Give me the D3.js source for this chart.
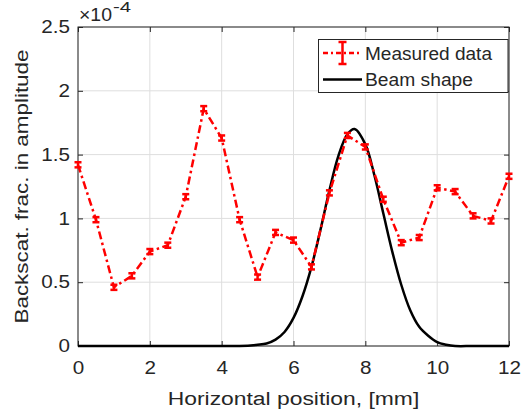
<!DOCTYPE html>
<html>
<head>
<meta charset="utf-8">
<script src="https://cdn.jsdelivr.net/npm/d3@7"></script>
<style>
  body { margin: 0; background: #fff; }
  svg text { font-family: "Liberation Sans", Arial, sans-serif; fill: #262626; }
</style>
</head>
<body>
<div id="chart"></div>
<script>
// measured data (x in mm, value in 1e-4)
const posX = [0, 0.5, 1, 1.5, 2, 2.5, 3, 3.5, 4, 4.5, 5, 5.5, 6, 6.5, 7, 7.5, 8, 8.5, 9, 9.5, 10, 10.5, 11, 11.5, 12]
const measured = [1.42, 0.99, 0.46, 0.55, 0.74, 0.79, 1.17, 1.86, 1.63, 0.99, 0.54, 0.89, 0.83, 0.62, 1.20, 1.65, 1.56, 1.15, 0.81, 0.85, 1.24, 1.21, 1.02, 0.98, 1.33]
const errs = [0.02, 0.02, 0.02, 0.02, 0.02, 0.02, 0.02, 0.02, 0.02, 0.02, 0.02, 0.02, 0.02, 0.02, 0.02, 0.02, 0.02, 0.02, 0.02, 0.02, 0.02, 0.02, 0.02, 0.02, 0.02]
// beam shape
const beamX = [0, 4, 4.5, 5, 5.25, 5.5, 5.75, 6, 6.25, 6.5, 6.75, 7, 7.25, 7.5, 7.7, 8, 8.25, 8.5, 8.75, 9, 9.25, 9.5, 9.75, 10, 10.25, 10.5, 11, 12]
const beam = [0, 0, 0, 0.01, 0.02, 0.05, 0.11, 0.22, 0.39, 0.62, 0.91, 1.22, 1.49, 1.66, 1.70, 1.58, 1.34, 1.04, 0.74, 0.48, 0.28, 0.15, 0.08, 0.03, 0.01, 0, 0, 0]
const xTicks = [0, 2, 4, 6, 8, 10, 12]
const yTicks = [0, 0.5, 1, 1.5, 2, 2.5]

const width = 522, height = 416
const mLeft = 78, mRight = 509, mTop = 27, mBottom = 346
const axisColor = '#262626'

const svg = d3.select('#chart').append('svg').attr('width', width).attr('height', height)

const x = d3.scaleLinear().domain([0, 12]).range([mLeft, mRight])
const y = d3.scaleLinear().domain([0, 2.5]).range([mBottom, mTop])

// 文字横向拉宽 (原图字体更宽)
const stretch = (sel, k) => {
  sel.each(function () {
    const len = this.getComputedTextLength()
    d3.select(this).attr('textLength', len * k).attr('lengthAdjust', 'spacingAndGlyphs')
  })
}

// 网格
const grid = svg.append('g').attr('class', 'grid')
grid.selectAll('.gx').data(xTicks).enter().append('line')
  .attr('x1', d => x(d)).attr('x2', d => x(d))
  .attr('y1', mTop).attr('y2', mBottom)
  .attr('stroke', '#dedede').attr('stroke-width', 1)
grid.selectAll('.gy').data(yTicks).enter().append('line')
  .attr('x1', mLeft).attr('x2', mRight)
  .attr('y1', d => y(d)).attr('y2', d => y(d))
  .attr('stroke', '#dedede').attr('stroke-width', 1)

// 坐标轴
const styleAxis = (g) => {
  g.select('.domain').remove()
  g.selectAll('line').attr('stroke', axisColor)
  g.selectAll('text').style('font-size', '17.5px').attr('fill', axisColor).call(stretch, 1.18)
}
svg.append('g').attr('transform', `translate(0,${mBottom})`)
  .call(d3.axisBottom(x).tickValues(xTicks).tickSize(-5).tickPadding(16).tickFormat(d3.format('d')))
  .call(styleAxis)
svg.append('g').attr('transform', `translate(0,${mTop})`)
  .call(d3.axisTop(x).tickValues(xTicks).tickSize(-5).tickFormat(''))
  .call(styleAxis)
svg.append('g').attr('transform', `translate(${mLeft},0)`)
  .call(d3.axisLeft(y).tickValues(yTicks).tickSize(-5).tickPadding(8).tickFormat(d => d))
  .call(styleAxis)
svg.append('g').attr('transform', `translate(${mRight},0)`)
  .call(d3.axisRight(y).tickValues(yTicks).tickSize(-5).tickFormat(''))
  .call(styleAxis)
svg.append('rect').attr('x', mLeft).attr('y', mTop)
  .attr('width', mRight - mLeft).attr('height', mBottom - mTop)
  .attr('fill', 'none').attr('stroke', axisColor).attr('stroke-width', 1)

// exponent
svg.append('text').text('\u00d710').attr('x', 79).attr('y', 21)
  .style('font-size', '17.5px').attr('textLength', 33).attr('lengthAdjust', 'spacingAndGlyphs')
svg.append('text').text('-4').attr('x', 113).attr('y', 12)
  .style('font-size', '14px').attr('textLength', 18).attr('lengthAdjust', 'spacingAndGlyphs')

// labels
svg.append('text').text('Horizontal position, [mm]')
  .attr('x', (mLeft + mRight) / 2).attr('y', 405)
  .attr('text-anchor', 'middle').style('font-size', '18px')
  .call(stretch, 1.27)
svg.append('text').text('Backscat. frac. in amplitude')
  .attr('transform', `translate(28,${(mTop + mBottom) / 2}) rotate(-90)`)
  .attr('text-anchor', 'middle').style('font-size', '18px')
  .call(stretch, 1.245)

// beam shape
const beamData = beamX.map((d, i) => ({ x: d, v: beam[i] }))
svg.append('path').datum(beamData)
  .attr('d', d3.line().x(d => x(d.x)).y(d => y(d.v)).curve(d3.curveCatmullRom))
  .attr('fill', 'none').attr('stroke', '#000').attr('stroke-width', 2.5)

// measured data
const mData = posX.map((d, i) => ({ x: d, v: measured[i], e: errs[i] }))
svg.append('path').datum(mData)
  .attr('d', d3.line().x(d => x(d.x)).y(d => y(d.v)))
  .attr('fill', 'none').attr('stroke', '#ff0000').attr('stroke-width', 2.5)
  .attr('stroke-dasharray', '8,3.5,2.5,3.5')

const eb = svg.append('g').attr('class', 'errbars')
mData.forEach(d => {
  const cx = x(d.x)
  const y1 = y(d.v + d.e), y2 = y(d.v - d.e)
  eb.append('line').attr('x1', cx).attr('x2', cx).attr('y1', y1).attr('y2', y2)
    .attr('stroke', '#ff0000').attr('stroke-width', 2.5)
  eb.append('line').attr('x1', cx - 3.5).attr('x2', cx + 3.5).attr('y1', y1).attr('y2', y1)
    .attr('stroke', '#ff0000').attr('stroke-width', 2.5)
  eb.append('line').attr('x1', cx - 3.5).attr('x2', cx + 3.5).attr('y1', y2).attr('y2', y2)
    .attr('stroke', '#ff0000').attr('stroke-width', 2.5)
})

// legend
const lg = svg.append('g').attr('class', 'legend')
lg.append('rect').attr('x', 318.5).attr('y', 39.5).attr('width', 189.5).attr('height', 53)
  .attr('fill', '#fff').attr('stroke', axisColor).attr('stroke-width', 1)
lg.append('line').attr('x1', 323).attr('x2', 362).attr('y1', 53).attr('y2', 53)
  .attr('stroke', '#ff0000').attr('stroke-width', 2.5).attr('stroke-dasharray', '5,3,2,3')
lg.append('line').attr('x1', 342.5).attr('x2', 342.5).attr('y1', 42).attr('y2', 64)
  .attr('stroke', '#ff0000').attr('stroke-width', 2.5)
lg.append('line').attr('x1', 338.5).attr('x2', 346.5).attr('y1', 42).attr('y2', 42)
  .attr('stroke', '#ff0000').attr('stroke-width', 2.5)
lg.append('line').attr('x1', 338.5).attr('x2', 346.5).attr('y1', 64).attr('y2', 64)
  .attr('stroke', '#ff0000').attr('stroke-width', 2.5)
lg.append('text').text('Measured data').attr('x', 365).attr('y', 60).style('font-size', '17.5px')
  .attr('textLength', 127).attr('lengthAdjust', 'spacingAndGlyphs')
lg.append('line').attr('x1', 323).attr('x2', 362).attr('y1', 79.5).attr('y2', 79.5)
  .attr('stroke', '#000').attr('stroke-width', 2.5)
lg.append('text').text('Beam shape').attr('x', 365).attr('y', 86).style('font-size', '17.5px')
  .attr('textLength', 108).attr('lengthAdjust', 'spacingAndGlyphs')
</script>
</body>
</html>
